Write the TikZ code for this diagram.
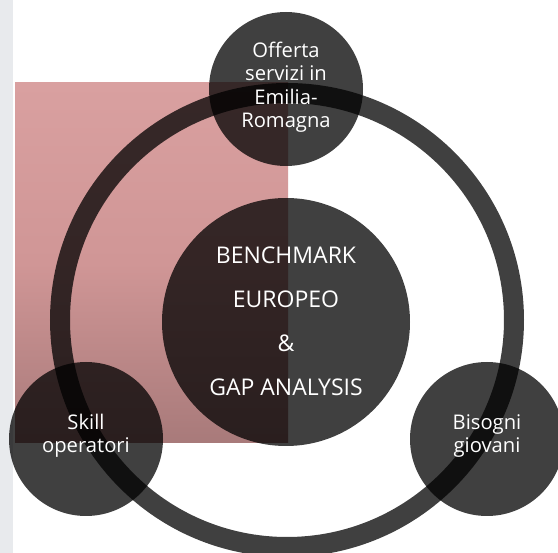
\documentclass[tikz,border=0pt]{standalone}
\usepackage{fontspec}
\setmainfont{Open Sans}
\definecolor{pinktop}{RGB}{217,160,160}
\definecolor{pinkmid}{RGB}{208,150,150}
\definecolor{pinkbot}{RGB}{168,122,122}
\definecolor{leftstrip}{RGB}{232,234,237}
\tikzset{
  disc/.style={circle, fill=black, fill opacity=0.75, inner sep=0pt},
  lbl/.style={text=white, align=center, font=\fontsize{20.2}{23.5}\selectfont},
  biglbl/.style={text=white, align=center, font=\fontsize{23}{44}\selectfont},
}
\begin{document}
\begin{tikzpicture}[x=1pt,y=-1pt]
\useasboundingbox (0,0) rectangle (558,553);
\clip (0,0) rectangle (558,553);
\fill[white] (0,0) rectangle (558,553);
\fill[leftstrip] (0,0) rectangle (13,553);
% pink panel
\shade[top color=pinktop, bottom color=pinkbot, middle color=pinkmid] (15,83) rectangle (288,443);
% ring
\draw[black, draw opacity=0.75, line width=20pt] (287,320) circle[radius=227];
% circles
\node[disc, minimum size=154pt] (top) at (286,89) {};
\node[disc, minimum size=154pt] (left) at (86,439) {};
\node[disc, minimum size=154pt] (right) at (487,439) {};
\node[disc, minimum size=248pt] (center) at (286,322) {};
% labels
\node[lbl] (toplbl) at ([yshift=2pt]top.center) {Offerta\\servizi in\\Emilia-\\Romagna};
\node[lbl] (leftlbl) at ([yshift=3pt]left.center) {Skill\\operatori};
\node[lbl] (rightlbl) at ([yshift=3pt]right.center) {Bisogni\\giovani};
\node[biglbl] (centerlbl) at ([yshift=1pt]center.center) {BENCHMARK\\EUROPEO\\\&\\GAP ANALYSIS};
\end{tikzpicture}
\end{document}
